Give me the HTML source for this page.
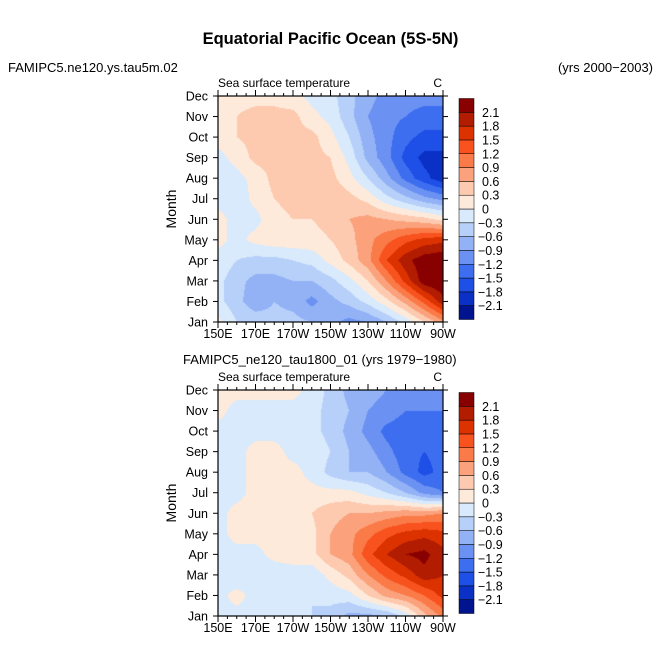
<!DOCTYPE html>
<html><head><meta charset="utf-8">
<style>
body{margin:0;background:#fff;}
#root{position:relative;width:661px;height:660px;font-family:"Liberation Sans",sans-serif;color:#000;overflow:hidden;}
.t{position:absolute;white-space:nowrap;font-size:12px;}
canvas{position:absolute;}
</style></head><body>
<div id="root">
<div class="t" style="left:0;width:661px;text-align:center;top:30px;font-size:16.5px;font-weight:bold;">Equatorial Pacific Ocean (5S-5N)</div>
<div class="t" style="left:8px;top:60px;font-size:13px;">FAMIPC5.ne120.ys.tau5m.02</div>
<div class="t" style="right:8px;top:60px;font-size:13px;">(yrs 2000−2003)</div>
<div class="t" style="left:183px;top:352px;font-size:13px;">FAMIPC5_ne120_tau1800_01 (yrs 1979−1980)</div>
<svg id="svg" width="661" height="660" style="position:absolute;left:0;top:0"></svg>
</div>
<script>
const months=["Jan","Feb","Mar","Apr","May","Jun","Jul","Aug","Sep","Oct","Nov","Dec"];
const lonLabels=["150E","170E","170W","150W","130W","110W","90W"];
const levels=[-2.1,-1.8,-1.5,-1.2,-0.9,-0.6,-0.3,0,0.3,0.6,0.9,1.2,1.5,1.8,2.1];
const levelLabels=["−2.1","−1.8","−1.5","−1.2","−0.9","−0.6","−0.3","0","0.3","0.6","0.9","1.2","1.5","1.8","2.1"];
const colors=["#00148f","#0a30c6","#1e4fe6","#3d6ef0","#6b91f2","#93b2f6","#b7d0fa","#d8eafc","#feeadb","#fdcab0","#fba27c","#fa7a48","#f8521f","#db3200","#b21c00","#880000"];
// rows Jan..Dec, cols 150E..90W every 10 degrees
const sstTop=[
[0.1,-0.3,-0.4,-0.5,-0.5,-0.6,-0.8,-1.0,-0.9,-0.6,-0.2,0.3,0.8],
[-0.2,-0.5,-0.8,-0.6,-0.7,-1.0,-0.7,-0.5,-0.2,0.2,0.7,1.3,2.0],
[-0.2,-0.5,-0.7,-0.7,-0.6,-0.6,-0.4,-0.1,0.3,0.9,1.6,2.3,2.4],
[-0.1,-0.3,-0.4,-0.4,-0.3,-0.2,0.1,0.4,0.8,1.5,2.0,2.3,2.4],
[0.1,-0.1,0.1,0.2,0.2,0.2,0.3,0.5,0.8,1.1,1.4,1.6,1.7],
[0.1,-0.1,-0.1,0.2,0.3,0.3,0.4,0.6,0.7,0.6,0.5,0.4,0.2],
[-0.1,-0.2,0.1,0.3,0.4,0.4,0.5,0.4,0.2,-0.2,-0.5,-0.8,-1.0],
[-0.2,-0.1,0.1,0.4,0.4,0.4,0.4,0.1,-0.3,-0.8,-1.3,-1.7,-2.0],
[-0.1,0.1,0.4,0.4,0.4,0.4,0.3,-0.1,-0.7,-1.1,-1.6,-1.9,-1.9],
[0.1,0.3,0.4,0.4,0.4,0.4,0.1,-0.3,-0.8,-1.1,-1.4,-1.6,-1.6],
[0.1,0.3,0.4,0.4,0.4,0.1,-0.1,-0.5,-0.9,-1.1,-1.2,-1.3,-1.3],
[0.1,0.2,0.2,0.2,0.1,-0.1,-0.2,-0.5,-0.8,-1.0,-1.1,-1.1,-1.1]];
const sstBottom=[
[-0.1,-0.1,-0.1,-0.2,-0.2,-0.3,-0.4,-0.7,-0.7,-0.6,-0.2,0.5,1.0],
[-0.1,0.1,-0.1,-0.1,-0.2,-0.3,-0.2,-0.1,0.3,0.7,0.9,1.2,1.6],
[-0.1,-0.2,-0.2,-0.2,-0.2,-0.2,0.1,0.4,0.9,1.3,1.6,2.0,1.8],
[-0.1,-0.1,-0.1,0.1,0.2,0.2,0.6,0.8,1.4,1.8,2.1,2.2,1.9],
[-0.1,0.1,0.1,0.1,0.2,0.2,0.6,0.8,1.1,1.4,1.6,1.7,1.6],
[-0.1,0.1,0.1,0.1,0.1,0.3,0.5,0.6,0.6,0.7,0.8,0.8,0.9],
[-0.1,-0.1,0.1,0.1,0.1,0.1,0.1,0.1,-0.1,-0.3,-0.6,-1.0,-1.2],
[-0.3,-0.1,0.1,0.1,0.1,-0.1,-0.4,-0.6,-0.6,-0.9,-1.3,-1.6,-1.4],
[-0.2,-0.1,0.1,0.1,-0.1,-0.1,-0.3,-0.6,-0.8,-1.1,-1.4,-1.5,-1.4],
[-0.1,-0.1,-0.1,-0.1,-0.1,-0.2,-0.4,-0.7,-1.0,-1.3,-1.4,-1.4,-1.4],
[0.1,-0.1,-0.1,-0.1,-0.1,-0.2,-0.4,-0.6,-0.9,-1.0,-1.2,-1.2,-1.2],
[0.1,0.1,0.1,0.1,0.1,-0.1,-0.4,-0.7,-0.8,-0.9,-1.0,-1.0,-1.1]];

const NS="http://www.w3.org/2000/svg";
const svg=document.getElementById('svg');
const root=document.getElementById('root');
function mk(tag,attrs,parent){const e=document.createElementNS(NS,tag);for(const k in attrs)e.setAttribute(k,attrs[k]);(parent||svg).appendChild(e);return e;}
function colorFor(v){let i=0;while(i<levels.length&&v>=levels[i])i++;return colors[i];}
function hex(c){return [parseInt(c.substr(1,2),16),parseInt(c.substr(3,2),16),parseInt(c.substr(5,2),16)];}
const FS=12.5;
function panel(data,x0,y0,w,h,name){
  const nx=data[0].length,ny=data.length;
  const xs=lon=>x0+(lon/120)*w;
  const ys=m=>y0+h-(m/11)*h;
  const cv=document.createElement('canvas');
  cv.width=w;cv.height=h;cv.style.left=x0+'px';cv.style.top=y0+'px';
  
  
  root.insertBefore(cv,svg);
  const ctx=cv.getContext('2d');const img=ctx.createImageData(w,h);
  for(let py=0;py<h;py++){for(let px=0;px<w;px++){
    const fx=(px+0.5)/w*(nx-1), fy=(h-py-0.5)/h*(ny-1);
    const i=Math.min(nx-2,Math.floor(fx)),j=Math.min(ny-2,Math.floor(fy));
    const tx=fx-i,ty=fy-j;
    const v=(data[j][i]*(1-tx)+data[j][i+1]*tx)*(1-ty)+(data[j+1][i]*(1-tx)+data[j+1][i+1]*tx)*ty;
    const c=hex(colorFor(v));const k=(py*w+px)*4;
    img.data[k]=c[0];img.data[k+1]=c[1];img.data[k+2]=c[2];img.data[k+3]=255;}}
  ctx.putImageData(img,0,0);
  const g=mk('g',{});
  
  
  mk('rect',{x:x0,y:y0,width:w,height:h,fill:'none',stroke:'#000','stroke-width':1.2},g);
  months.forEach((m,i)=>{const y=ys(i);
    mk('line',{x1:x0-5,x2:x0,y1:y,y2:y,stroke:'#000'},g);
    mk('line',{x1:x0+w,x2:x0+w+5,y1:y,y2:y,stroke:'#000'},g);
    const t=mk('text',{x:x0-10,y:y+4.5,'text-anchor':'end','font-size':FS,'font-family':'Liberation Sans'},g);t.textContent=m;
    
    
  });
  for(let d=0;d<=120;d+=5){const x=xs(d);const L=d%20==0?6:3;
    mk('line',{x1:x,x2:x,y1:y0+h,y2:y0+h+L,stroke:'#000'},g);
    mk('line',{x1:x,x2:x,y1:y0-L,y2:y0,stroke:'#000'},g);}
  lonLabels.forEach((l,i)=>{const t=mk('text',{x:xs(i*20),y:y0+h+16,'text-anchor':'middle','font-size':FS,'font-family':'Liberation Sans'},g);t.textContent=l;
    
    
  });
  const yl=mk('text',{transform:`translate(${x0-42},${y0+h/2}) rotate(-90)`,'text-anchor':'middle','font-size':14,'font-family':'Liberation Sans'},g);yl.textContent='Month';
  
  
  const st=mk('text',{x:x0,y:y0-9,'font-size':12,'font-family':'Liberation Sans'},g);st.textContent='Sea surface temperature';
  
  
  const un=mk('text',{x:x0+w-1,y:y0-9,'text-anchor':'end','font-size':12,'font-family':'Liberation Sans'},g);un.textContent='C';
  
  
  const cb=mk('g',{});
  
  
  const cx=459,cw=15,ct=y0+2.5,ch=221,bh=ch/colors.length;
  colors.forEach((c,i)=>{const r=mk('rect',{x:cx,y:ct+ch-(i+1)*bh,width:cw,height:bh,fill:c,stroke:'#000','stroke-width':0.5},cb);
    
    
  });
  levels.forEach((lv,i)=>{const y=ct+ch-(i+1)*bh;
    const t=mk('text',{x:cx+cw+(levelLabels[i][0]=='−'?4:8),y:y+4.5,'font-size':FS,'font-family':'Liberation Sans'},cb);t.textContent=levelLabels[i];
    
    
  });
}
panel(sstTop,218,96,225,226,'top-panel');
panel(sstBottom,218,390,225,226,'bottom-panel');
</script>
</body></html>
